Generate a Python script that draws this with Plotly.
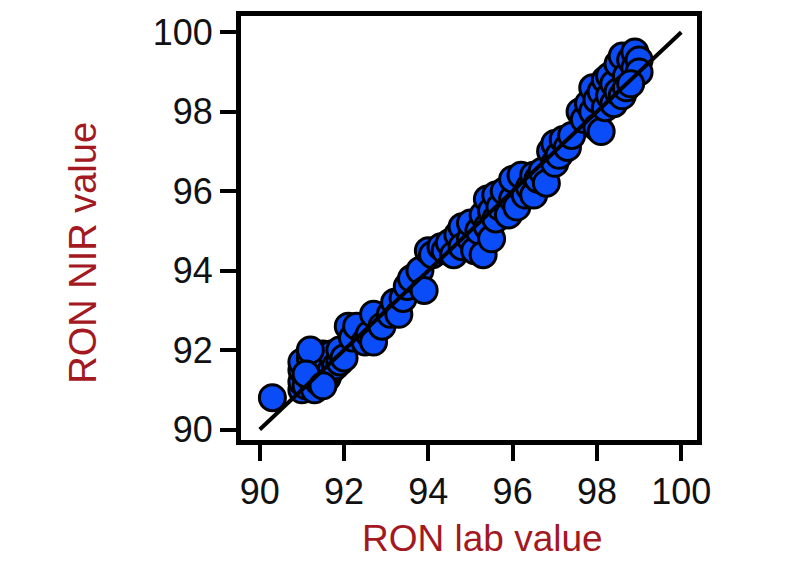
import plotly.graph_objects as go

# RON lab value (x) vs RON NIR value (y)
lab_values = [
    90.3,
    91.0, 91.0, 91.0, 91.0, 91.1, 91.2, 91.2, 91.3, 91.3, 91.4, 91.4, 91.5, 91.5,
    91.6, 91.6, 91.7, 91.7, 91.8, 91.9, 91.9, 92.0, 91.2, 91.1, 91.5,
    92.1, 92.2, 92.3, 92.5, 92.6, 92.7, 92.7, 92.9, 93.1, 93.2, 93.3, 93.4, 93.5, 93.6,
    93.8, 93.9, 94.0, 94.1, 94.3, 94.4, 94.5, 94.6, 94.7, 94.8, 94.8, 95.0, 95.0,
    95.1, 95.2, 95.3, 95.3, 95.4, 95.4, 95.5, 95.5, 95.6, 95.6, 95.7, 95.8, 95.9,
    96.0, 96.0, 96.1, 96.2, 96.3, 96.4, 96.5, 96.5, 96.6, 96.7, 96.8,
    96.9, 97.0, 97.0, 97.1, 97.2, 97.3, 97.4,
    97.6, 97.7, 97.8, 97.9, 97.9, 98.0, 98.0, 98.1, 98.1, 98.2, 98.2, 98.3, 98.3,
    98.4, 98.4, 98.5, 98.5, 98.6, 98.6, 98.7, 98.7, 98.8, 98.9, 98.9, 99.0, 99.0, 98.8,
]
nir_values = [
    90.8,
    91.0, 91.2, 91.5, 91.7, 91.1, 91.3, 91.8, 91.0, 91.5, 91.2, 91.6, 91.4, 91.9,
    91.3, 91.7, 91.5, 91.9, 91.6, 91.7, 92.0, 91.8, 92.0, 91.4, 91.1,
    92.6, 92.3, 92.6, 92.2, 92.4, 92.9, 92.2, 92.6, 92.9, 93.2, 92.9, 93.3, 93.6, 93.8,
    94.0, 93.5, 94.5, 94.4, 94.6, 94.5, 94.7, 94.4, 94.9, 95.1, 94.6, 94.8, 95.2,
    94.5, 95.0, 94.4, 95.4, 95.1, 95.8, 95.5, 94.8, 95.9, 95.3, 95.6, 96.0, 95.4,
    95.8, 96.3, 95.6, 96.4, 95.9, 96.1, 96.4, 95.9, 96.3, 96.5, 96.2,
    97.0, 96.7, 97.2, 96.9, 97.3, 97.1, 97.4,
    98.0, 97.8, 98.2, 98.0, 98.6, 98.3, 97.6, 97.5, 98.5, 98.1, 98.8, 98.4, 98.9,
    98.2, 98.7, 98.5, 99.2, 98.4, 99.4, 98.9, 98.6, 99.3, 99.5, 99.1, 99.3, 99.0, 98.7,
]
ideal_line = [90, 100]
tick_values = [90, 92, 94, 96, 98, 100]
tick_labels = ["90", "92", "94", "96", "98", "100"]

FONT = "Arial, Liberation Sans, sans-serif"
TITLE_RED = "#a3191f"

fig = go.Figure()
fig.add_trace(go.Scatter(
    x=lab_values, y=nir_values, mode="markers",
    marker=dict(size=26, color="#0a4cf7", line=dict(color="#000000", width=3)),
    showlegend=False, hoverinfo="skip",
))
fig.add_trace(go.Scatter(
    x=ideal_line, y=ideal_line, mode="lines",
    line=dict(color="#000000", width=4),
    showlegend=False, hoverinfo="skip",
))

axis_common = dict(
    showgrid=False, zeroline=False,
    showline=True, linecolor="#000000", linewidth=5, mirror=True,
    ticks="outside", ticklen=16, tickwidth=4, tickcolor="#000000",
    tickvals=tick_values, ticktext=tick_labels,
    tickfont=dict(family=FONT, size=36, color="#111111"),
)
fig.update_xaxes(range=[89.555, 100.374], **axis_common)
fig.update_yaxes(range=[89.736, 100.407], **axis_common)

fig.add_annotation(
    text="RON lab value", x=483, y=539, xref="paper", yref="paper",
    showarrow=False, font=dict(family=FONT, size=37, color=TITLE_RED),
    xanchor="center", yanchor="middle",
)
fig.add_annotation(
    text="RON NIR value", x=82, y=253, textangle=-90,
    showarrow=False, font=dict(family=FONT, size=38, color=TITLE_RED),
    xanchor="center", yanchor="middle",
)

W, H = 800, 561
ml, mr, mt, mb = 240.5, 102.5, 15.5, 120.5
# convert pixel positions of annotations to paper coords
for ann in fig.layout.annotations:
    px, py = ann.x, ann.y
    ann.x = (px - ml) / (W - ml - mr)
    ann.y = 1 - (py - mt) / (H - mt - mb)
    ann.xref = "paper"
    ann.yref = "paper"

fig.update_layout(
    width=W, height=H,
    margin=dict(l=ml, r=mr, t=mt, b=mb, pad=0),
    paper_bgcolor="#ffffff", plot_bgcolor="#ffffff",
)

fig.write_html("out.html")
